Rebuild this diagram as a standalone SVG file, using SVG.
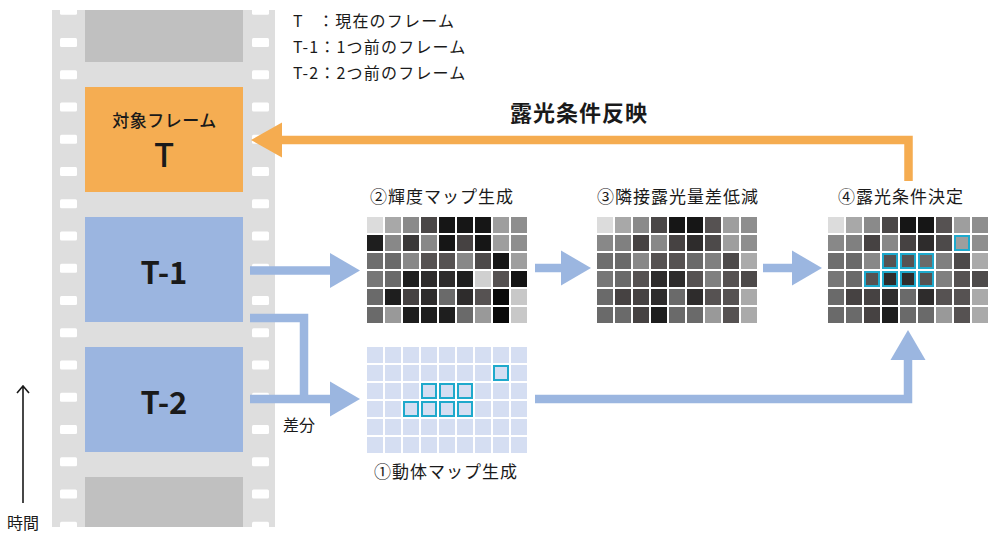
<svg xmlns="http://www.w3.org/2000/svg" width="1000" height="537" viewBox="0 0 1000 537">
<style>
text{font-family:"Noto Sans CJK JP","Noto Sans",sans-serif;fill:#1a1a1a}
.hole{fill:#ffffff}
.lbl{font-size:17px;letter-spacing:1px;text-anchor:middle}
.leg{font-size:16px;letter-spacing:1.2px}
.big{font-weight:bold;text-anchor:middle}
.mc{fill:#d5def2}
.hl{fill:none;stroke:#1fa9cc;stroke-width:2}
.ba{fill:none;stroke:#9bb6e0;stroke-width:8.5}
.oa{fill:none;stroke:#f5ac50;stroke-width:8.5}
</style>
<defs>
<marker id="hb" markerUnits="userSpaceOnUse" markerWidth="31" markerHeight="36" refX="0" refY="17.5" orient="auto" overflow="visible">
<path d="M0,0 L30,17.5 L0,35 Z" fill="#9bb6e0"/>
</marker>
<marker id="ho" markerUnits="userSpaceOnUse" markerWidth="31" markerHeight="36" refX="0" refY="17.5" orient="auto" overflow="visible">
<path d="M0,0 L31,17.5 L0,35 Z" fill="#f5ac50"/>
</marker>
<g id="holes">
<rect class="hole" x="60" y="0" width="17" height="9" rx="1.5"/>
<rect class="hole" x="252" y="0" width="17" height="9" rx="1.5"/>
</g>
</defs>
<rect width="1000" height="537" fill="#ffffff"/>

<g id="film">
<rect x="52" y="10" width="223" height="517" fill="#dedede"/>
<svg x="52" y="10" width="223" height="517" viewBox="52 10 223 517" overflow="hidden">
<use href="#holes" y="5.75"/>
<use href="#holes" y="38"/>
<use href="#holes" y="70.25"/>
<use href="#holes" y="102.5"/>
<use href="#holes" y="134.75"/>
<use href="#holes" y="167"/>
<use href="#holes" y="199.25"/>
<use href="#holes" y="231.5"/>
<use href="#holes" y="263.75"/>
<use href="#holes" y="296"/>
<use href="#holes" y="328.25"/>
<use href="#holes" y="360.5"/>
<use href="#holes" y="392.75"/>
<use href="#holes" y="425"/>
<use href="#holes" y="457.25"/>
<use href="#holes" y="489.5"/>
<use href="#holes" y="521.75"/>
</svg>
<rect x="85" y="10" width="158" height="52" fill="#c0c0c0"/>
<rect x="85" y="477" width="158" height="50" fill="#c0c0c0"/>
</g>

<g id="frame-T">
<rect x="85" y="87" width="158" height="105" fill="#f5ad52"/>
<text x="164.5" y="127" font-size="17" letter-spacing="0.5" text-anchor="middle" font-weight="500">対象フレーム</text>
<text x="164" y="167" font-size="33" text-anchor="middle" font-weight="500">T</text>
</g>
<g id="frame-T1">
<rect x="85" y="217" width="158" height="105" fill="#9bb5e0"/>
<text class="big" x="164" y="284" font-size="31">T-1</text>
</g>
<g id="frame-T2">
<rect x="85" y="347" width="158" height="105" fill="#9bb5e0"/>
<text class="big" x="164" y="414" font-size="31">T-2</text>
</g>

<g id="legend">
<text class="leg" x="293" y="27">T</text>
<text class="leg" x="318" y="27">：現在のフレーム</text>
<text class="leg" x="293" y="53">T-1：1つ前のフレーム</text>
<text class="leg" x="293" y="79">T-2：2つ前のフレーム</text>
</g>

<g id="time-axis">
<path d="M23,503 V386 M17,393 L23,386 L29,393" fill="none" stroke="#1a1a1a" stroke-width="1.6"/>
<text x="7" y="529" font-size="16">時間</text>
</g>

<g id="connectors">
<path class="oa" d="M908.5,181 V140 H282" marker-end="url(#ho)"/>
<text class="big" x="579" y="121" font-size="22" letter-spacing="1">露光条件反映</text>
<path class="ba" d="M250,270.5 H330" marker-end="url(#hb)"/>
<path class="ba" d="M535,268 H561" marker-end="url(#hb)"/>
<path class="ba" d="M763,268 H792" marker-end="url(#hb)"/>
<path class="ba" d="M250,318 H304 V399"/>
<path class="ba" d="M250,399 H330" marker-end="url(#hb)"/>
<path class="ba" d="M535,399 H908 V360" marker-end="url(#hb)"/>
<text x="283" y="431" font-size="16">差分</text>
</g>

<g id="map-luminance">
<text class="lbl" x="442" y="203">②輝度マップ生成</text>
<g transform="translate(367,217)">
<rect x="0" y="0" width="16" height="16" fill="#dcdcdc"/><rect x="18" y="0" width="16" height="16" fill="#a8a8a8"/><rect x="36" y="0" width="16" height="16" fill="#8a8a8a"/><rect x="54" y="0" width="16" height="16" fill="#4a4747"/><rect x="72" y="0" width="16" height="16" fill="#161616"/><rect x="90" y="0" width="16" height="16" fill="#161616"/><rect x="108" y="0" width="16" height="16" fill="#161616"/><rect x="126" y="0" width="16" height="16" fill="#9e9e9e"/><rect x="144" y="0" width="16" height="16" fill="#8e8e8e"/>
<rect x="0" y="18" width="16" height="16" fill="#1e1e1e"/><rect x="18" y="18" width="16" height="16" fill="#888888"/><rect x="36" y="18" width="16" height="16" fill="#3a3838"/><rect x="54" y="18" width="16" height="16" fill="#888888"/><rect x="72" y="18" width="16" height="16" fill="#161616"/><rect x="90" y="18" width="16" height="16" fill="#464242"/><rect x="108" y="18" width="16" height="16" fill="#161616"/><rect x="126" y="18" width="16" height="16" fill="#9e9e9e"/><rect x="144" y="18" width="16" height="16" fill="#8e8e8e"/>
<rect x="0" y="36" width="16" height="16" fill="#6e6e6e"/><rect x="18" y="36" width="16" height="16" fill="#6a6a6a"/><rect x="36" y="36" width="16" height="16" fill="#888888"/><rect x="54" y="36" width="16" height="16" fill="#565252"/><rect x="72" y="36" width="16" height="16" fill="#565252"/><rect x="90" y="36" width="16" height="16" fill="#888888"/><rect x="108" y="36" width="16" height="16" fill="#4d4a4a"/><rect x="126" y="36" width="16" height="16" fill="#161616"/><rect x="144" y="36" width="16" height="16" fill="#9e9e9e"/>
<rect x="0" y="54" width="16" height="16" fill="#777777"/><rect x="18" y="54" width="16" height="16" fill="#6a6a6a"/><rect x="36" y="54" width="16" height="16" fill="#1e1e1e"/><rect x="54" y="54" width="16" height="16" fill="#2e2c2c"/><rect x="72" y="54" width="16" height="16" fill="#2e2c2c"/><rect x="90" y="54" width="16" height="16" fill="#1e1e1e"/><rect x="108" y="54" width="16" height="16" fill="#d0d0d0"/><rect x="126" y="54" width="16" height="16" fill="#565252"/><rect x="144" y="54" width="16" height="16" fill="#141414"/>
<rect x="0" y="72" width="16" height="16" fill="#6a6a6a"/><rect x="18" y="72" width="16" height="16" fill="#1e1e1e"/><rect x="36" y="72" width="16" height="16" fill="#464242"/><rect x="54" y="72" width="16" height="16" fill="#2e2c2c"/><rect x="72" y="72" width="16" height="16" fill="#6a6a6a"/><rect x="90" y="72" width="16" height="16" fill="#2e2c2c"/><rect x="108" y="72" width="16" height="16" fill="#565252"/><rect x="126" y="72" width="16" height="16" fill="#0a0a0a"/><rect x="144" y="72" width="16" height="16" fill="#c8c8c8"/>
<rect x="0" y="90" width="16" height="16" fill="#6a6a6a"/><rect x="18" y="90" width="16" height="16" fill="#999999"/><rect x="36" y="90" width="16" height="16" fill="#1e1e1e"/><rect x="54" y="90" width="16" height="16" fill="#1e1e1e"/><rect x="72" y="90" width="16" height="16" fill="#1e1e1e"/><rect x="90" y="90" width="16" height="16" fill="#6a6a6a"/><rect x="108" y="90" width="16" height="16" fill="#999999"/><rect x="126" y="90" width="16" height="16" fill="#0a0a0a"/><rect x="144" y="90" width="16" height="16" fill="#c8c8c8"/>
</g>
</g>

<g id="map-reduced">
<text class="lbl" x="678" y="203">③隣接露光量差低減</text>
<g id="reduced-cells" transform="translate(597,217)">
<rect x="0" y="0" width="16" height="16" fill="#dcdcdc"/><rect x="18" y="0" width="16" height="16" fill="#a8a8a8"/><rect x="36" y="0" width="16" height="16" fill="#8a8a8a"/><rect x="54" y="0" width="16" height="16" fill="#4a4747"/><rect x="72" y="0" width="16" height="16" fill="#161616"/><rect x="90" y="0" width="16" height="16" fill="#161616"/><rect x="108" y="0" width="16" height="16" fill="#565252"/><rect x="126" y="0" width="16" height="16" fill="#9e9e9e"/><rect x="144" y="0" width="16" height="16" fill="#8e8e8e"/>
<rect x="0" y="18" width="16" height="16" fill="#888888"/><rect x="18" y="18" width="16" height="16" fill="#808080"/><rect x="36" y="18" width="16" height="16" fill="#464242"/><rect x="54" y="18" width="16" height="16" fill="#888888"/><rect x="72" y="18" width="16" height="16" fill="#464242"/><rect x="90" y="18" width="16" height="16" fill="#2e2c2c"/><rect x="108" y="18" width="16" height="16" fill="#4d4a4a"/><rect x="126" y="18" width="16" height="16" fill="#9e9e9e"/><rect x="144" y="18" width="16" height="16" fill="#8e8e8e"/>
<rect x="0" y="36" width="16" height="16" fill="#6e6e6e"/><rect x="18" y="36" width="16" height="16" fill="#6a6a6a"/><rect x="36" y="36" width="16" height="16" fill="#888888"/><rect x="54" y="36" width="16" height="16" fill="#565252"/><rect x="72" y="36" width="16" height="16" fill="#565252"/><rect x="90" y="36" width="16" height="16" fill="#6a6a6a"/><rect x="108" y="36" width="16" height="16" fill="#808080"/><rect x="126" y="36" width="16" height="16" fill="#4d4a4a"/><rect x="144" y="36" width="16" height="16" fill="#aaaaaa"/>
<rect x="0" y="54" width="16" height="16" fill="#777777"/><rect x="18" y="54" width="16" height="16" fill="#6a6a6a"/><rect x="36" y="54" width="16" height="16" fill="#565252"/><rect x="54" y="54" width="16" height="16" fill="#2e2c2c"/><rect x="72" y="54" width="16" height="16" fill="#2e2c2c"/><rect x="90" y="54" width="16" height="16" fill="#565252"/><rect x="108" y="54" width="16" height="16" fill="#808080"/><rect x="126" y="54" width="16" height="16" fill="#565252"/><rect x="144" y="54" width="16" height="16" fill="#4d4a4a"/>
<rect x="0" y="72" width="16" height="16" fill="#6a6a6a"/><rect x="18" y="72" width="16" height="16" fill="#464242"/><rect x="36" y="72" width="16" height="16" fill="#464242"/><rect x="54" y="72" width="16" height="16" fill="#2e2c2c"/><rect x="72" y="72" width="16" height="16" fill="#6a6a6a"/><rect x="90" y="72" width="16" height="16" fill="#2e2c2c"/><rect x="108" y="72" width="16" height="16" fill="#565252"/><rect x="126" y="72" width="16" height="16" fill="#565252"/><rect x="144" y="72" width="16" height="16" fill="#aaaaaa"/>
<rect x="0" y="90" width="16" height="16" fill="#6a6a6a"/><rect x="18" y="90" width="16" height="16" fill="#6a6a6a"/><rect x="36" y="90" width="16" height="16" fill="#464242"/><rect x="54" y="90" width="16" height="16" fill="#1e1e1e"/><rect x="72" y="90" width="16" height="16" fill="#6a6a6a"/><rect x="90" y="90" width="16" height="16" fill="#6a6a6a"/><rect x="108" y="90" width="16" height="16" fill="#999999"/><rect x="126" y="90" width="16" height="16" fill="#565252"/><rect x="144" y="90" width="16" height="16" fill="#aaaaaa"/>
</g>
</g>

<g id="map-exposure">
<text class="lbl" x="901" y="203">④露光条件決定</text>
<use href="#reduced-cells" transform="translate(231,0)"/>
<g transform="translate(828,217)">
<rect class="hl" x="127" y="19" width="14" height="14"/>
<rect class="hl" x="55" y="37" width="14" height="14"/><rect class="hl" x="73" y="37" width="14" height="14"/><rect class="hl" x="91" y="37" width="14" height="14"/>
<rect class="hl" x="37" y="55" width="14" height="14"/><rect class="hl" x="55" y="55" width="14" height="14"/><rect class="hl" x="73" y="55" width="14" height="14"/><rect class="hl" x="91" y="55" width="14" height="14"/>
</g>
</g>

<g id="map-motion">
<text class="lbl" x="446" y="478">①動体マップ生成</text>
<g transform="translate(367,347)">
<g id="mrow">
<rect class="mc" x="0" y="0" width="16" height="16"/><rect class="mc" x="18" y="0" width="16" height="16"/><rect class="mc" x="36" y="0" width="16" height="16"/><rect class="mc" x="54" y="0" width="16" height="16"/><rect class="mc" x="72" y="0" width="16" height="16"/><rect class="mc" x="90" y="0" width="16" height="16"/><rect class="mc" x="108" y="0" width="16" height="16"/><rect class="mc" x="126" y="0" width="16" height="16"/><rect class="mc" x="144" y="0" width="16" height="16"/>
</g>
<use href="#mrow" y="18"/><use href="#mrow" y="36"/><use href="#mrow" y="54"/><use href="#mrow" y="72"/><use href="#mrow" y="90"/>
<rect class="hl" x="127" y="19" width="14" height="14"/>
<rect class="hl" x="55" y="37" width="14" height="14"/><rect class="hl" x="73" y="37" width="14" height="14"/><rect class="hl" x="91" y="37" width="14" height="14"/>
<rect class="hl" x="37" y="55" width="14" height="14"/><rect class="hl" x="55" y="55" width="14" height="14"/><rect class="hl" x="73" y="55" width="14" height="14"/><rect class="hl" x="91" y="55" width="14" height="14"/>
</g>
</g>
</svg>
